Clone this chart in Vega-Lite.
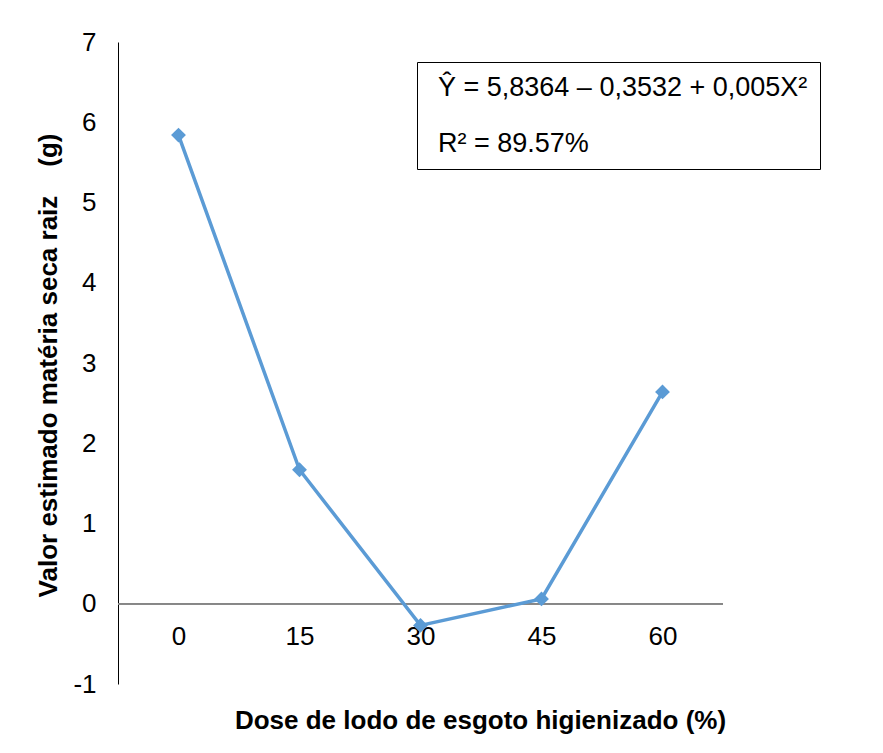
{
  "$schema": "https://vega.github.io/schema/vega-lite/v6.json",
  "width": 605,
  "height": 642,
  "autosize": {"type": "none"},
  "padding": {"left": 118, "top": 42, "right": 160, "bottom": 69},
  "background": "white",
  "config": {
    "view": {"stroke": null},
    "font": "Liberation Sans",
    "axis": {"labelFont": "Liberation Sans", "titleFont": "Liberation Sans", "labelColor": "black", "titleColor": "black"},
    "legend": {"labelFont": "Liberation Sans"}
  },
  "data": {"values": [
    {"dose": "0", "valor": 5.84},
    {"dose": "15", "valor": 1.67},
    {"dose": "30", "valor": -0.27},
    {"dose": "45", "valor": 0.06},
    {"dose": "60", "valor": 2.64}
  ]},
  "layer": [
    {
      "mark": {"type": "rule", "color": "#868686", "strokeWidth": 1.5},
      "encoding": {"y": {"datum": 0}}
    },
    {
      "mark": {"type": "line", "color": "#5B9BD5", "strokeWidth": 3.5, "point": {"shape": "diamond", "size": 220, "color": "#5B9BD5", "filled": true}},
      "encoding": {
        "x": {
          "field": "dose", "type": "ordinal", "sort": null,
          "scale": {"type": "point", "padding": 0.5},
          "axis": {
            "title": "Dose de lodo de esgoto higienizado (%)",
            "labelAngle": 0, "labelFontSize": 26, "ticks": false, "domain": false, "grid": false,
            "labelBaseline": "middle", "labelPadding": -48,
            "titleFontSize": 26, "titleFontWeight": "bold",
            "titleX": 362, "titleY": 36, "titleBaseline": "middle", "titleAnchor": "middle"
          }
        },
        "y": {
          "field": "valor", "type": "quantitative",
          "scale": {"domain": [-1, 7], "nice": false, "zero": false},
          "axis": {
            "title": "Valor estimado matéria seca raiz \u00a0\u00a0 (g)",
            "values": [-1, 0, 1, 2, 3, 4, 5, 6, 7],
            "labelExpr": "'' + datum.value",
            "labelFontSize": 26, "ticks": false, "grid": false,
            "domain": true, "domainColor": "black", "domainWidth": 1,
            "labelPadding": 22,
            "titleFontSize": 26, "titleFontWeight": "bold",
            "titleX": -70, "titleY": 323, "titleBaseline": "middle", "titleAngle": -90, "titleAnchor": "middle"
          }
        }
      }
    },
    {
      "data": {"values": [
        {"eq": "Ŷ = 5,8364 – 0,3532 + 0,005X²\u00a0\u00a0\u00a0"},
        {"eq": "R² = 89.57%"}
      ]},
      "mark": {"type": "point", "opacity": 0},
      "encoding": {
        "color": {
          "field": "eq", "type": "nominal", "sort": null,
          "scale": {"range": ["white", "white"]},
          "legend": {
            "title": null, "orient": "none", "legendX": 299, "legendY": 20,
            "strokeColor": "black", "fillColor": "white",
            "padding": 12, "symbolSize": 0, "symbolOpacity": 0,
            "labelOffset": -18, "labelFontSize": 27, "labelColor": "black", "labelLimit": 700,
            "rowPadding": 28
          }
        }
      }
    }
  ]
}
